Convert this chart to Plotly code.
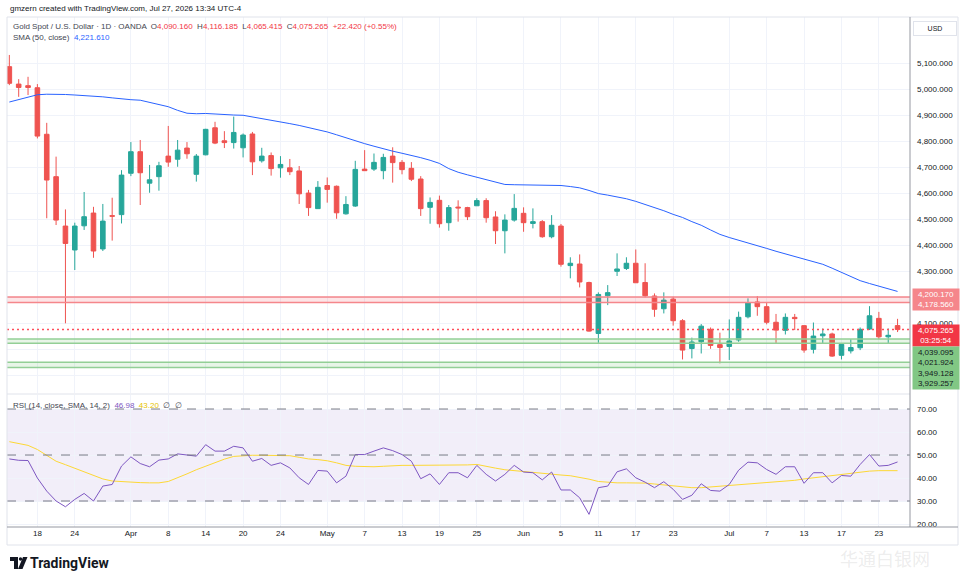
import plotly.graph_objects as go
import pandas as pd

# trading days shown (Good Friday 2026-04-03 has no bar)
dates = [d.strftime("%Y-%m-%d") for d in pd.bdate_range("2026-03-13", "2026-07-27")]
dates = [d for d in dates if d != "2026-04-03"]

tick_dates = ["2026-03-18", "2026-03-24", "2026-04-01", "2026-04-08", "2026-04-14", "2026-04-20",
              "2026-04-24", "2026-05-01", "2026-05-07", "2026-05-13", "2026-05-19", "2026-05-25",
              "2026-06-01", "2026-06-05", "2026-06-11", "2026-06-17", "2026-06-23", "2026-07-01",
              "2026-07-07", "2026-07-13", "2026-07-17", "2026-07-23"]
tick_text = ["18", "24", "Apr", "8", "14", "20", "24", "May", "7", "13", "19", "25",
             "Jun", "5", "11", "17", "23", "Jul", "7", "13", "17", "23"]

price_ticks = list(range(3900, 5200, 100))
hidden_ticks = [3900, 4000, 4200]  # covered by the level labels on the scale

opens = [5086, 5019, 5013, 5005, 4826, 4663, 4473, 4381, 4474, 4523,
         4385, 4513, 4517, 4676, 4759, 4638, 4663, 4742, 4730, 4773,
         4672, 4747, 4851, 4801, 4794, 4774, 4827, 4724, 4744, 4697,
         4697, 4685, 4600, 4540, 4629, 4626, 4520, 4550, 4692, 4692,
         4686, 4742, 4718, 4695, 4654, 4545, 4572, 4486, 4546, 4544,
         4551, 4571, 4508, 4455, 4496, 4522, 4483, 4490, 4432, 4473,
         4321, 4327, 4256, 4060, 4205, 4299, 4310, 4330, 4256, 4204,
         4155, 4192, 4109, 4002, 4028, 4076, 4017, 4010, 4035, 4124,
         4181, 4163, 4103, 4072, 4122, 4090, 3999, 4051, 4058, 3976,
         3993, 4005, 4077, 4118, 4047, 4090.160]
highs = [5131, 5038, 5047, 5019, 4870, 4740, 4537, 4486, 4604, 4547,
         4558, 4582, 4688, 4796, 4804, 4708, 4720, 4858, 4804, 4796,
         4750, 4847, 4874, 4838, 4894, 4829, 4835, 4774, 4756, 4742,
         4731, 4704, 4612, 4646, 4660, 4629, 4588, 4724, 4765, 4752,
         4751, 4776, 4727, 4719, 4665, 4583, 4590, 4554, 4572, 4547,
         4580, 4580, 4530, 4518, 4596, 4545, 4541, 4496, 4515, 4481,
         4353, 4364, 4259, 4218, 4246, 4368, 4353, 4383, 4330, 4214,
         4218, 4201, 4115, 4044, 4096, 4083, 4063, 4114, 4144, 4195,
         4204, 4178, 4135, 4137, 4135, 4092, 4102, 4079, 4063, 4022,
         4038, 4083, 4165, 4143, 4079, 4116.185]
lows = [5015, 4970, 4977, 4810, 4503, 4477, 4099, 4304, 4458, 4351,
        4377, 4417, 4483, 4665, 4554, 4601, 4609, 4701, 4701, 4732,
        4644, 4745, 4788, 4773, 4771, 4737, 4669, 4717, 4667, 4659,
        4669, 4558, 4512, 4540, 4563, 4501, 4517, 4547, 4686, 4685,
        4653, 4640, 4672, 4646, 4512, 4482, 4467, 4455, 4490, 4496,
        4551, 4486, 4404, 4368, 4490, 4451, 4464, 4428, 4426, 4317,
        4272, 4237, 4067, 4024, 4169, 4281, 4304, 4255, 4199, 4124,
        4137, 4090, 3960, 3964, 3983, 4001, 3945, 3958, 4028, 4118,
        4128, 4095, 4022, 4056, 4073, 3986, 3983, 4022, 3970, 3960,
        3983, 3996, 4073, 4038, 4022, 4065.415]
closes = [5022, 5006, 5006, 4819, 4650, 4496, 4406, 4473, 4509, 4377,
          4492, 4511, 4669, 4759, 4678, 4651, 4705, 4719, 4765, 4751,
          4742, 4845, 4792, 4794, 4833, 4823, 4720, 4742, 4694, 4710,
          4682, 4597, 4544, 4622, 4614, 4524, 4556, 4691, 4686, 4718,
          4737, 4717, 4690, 4653, 4540, 4564, 4482, 4544, 4543, 4509,
          4571, 4505, 4455, 4496, 4541, 4486, 4490, 4432, 4476, 4326,
          4330, 4258, 4069, 4210, 4217, 4308, 4330, 4255, 4205, 4153,
          4188, 4109, 3996, 4027, 4088, 4014, 4006, 4031, 4122, 4177,
          4163, 4103, 4073, 4122, 4117, 3996, 4050, 4058, 3973, 4018,
          4006, 4076, 4128, 4047, 4052.845, 4075.265]

sma50 = [4950, 4960, 4970, 4978, 4980, 4980, 4979, 4977, 4975, 4973,
         4970, 4966, 4962, 4959, 4957, 4948, 4940, 4932, 4918, 4907,
         4905, 4906, 4904, 4901, 4900, 4899, 4893, 4887, 4880, 4874,
         4867, 4860, 4852, 4845, 4835, 4824, 4812, 4800, 4790, 4780,
         4770, 4761, 4753, 4745, 4736, 4726, 4714, 4694, 4680, 4670,
         4660, 4651, 4640, 4633, 4632, 4631, 4631, 4630, 4630, 4629,
         4625, 4620, 4610, 4598, 4592, 4585, 4578, 4568, 4557, 4545,
         4532, 4518, 4506, 4490, 4476, 4458, 4441, 4429, 4419, 4408,
         4397, 4387, 4376, 4366, 4356, 4345, 4335, 4326, 4311, 4296,
         4280, 4263, 4252, 4242, 4231, 4221.61]

rsi = [48.3, 47.7, 47.6, 40.0, 34.3, 30.0, 27.5, 30.7, 33.3, 30.0,
       36.5, 37.2, 45.2, 49.2, 46.3, 44.9, 47.8, 48.3, 50.5, 49.9,
       49.5, 54.5, 51.7, 51.7, 53.8, 53.1, 47.3, 48.5, 45.5, 46.6,
       44.4, 40.1, 37.2, 43.3, 43.0, 37.9, 40.8, 50.2, 50.2, 51.7,
       53.1, 51.9, 50.2, 47.3, 39.7, 41.8, 37.2, 42.3, 42.3, 40.1,
       45.5, 41.6, 38.7, 41.6, 45.5, 42.6, 42.3, 39.2, 42.6, 34.8,
       34.8, 31.4, 24.2, 35.8, 36.5, 42.7, 44.0, 40.1, 38.2, 35.8,
       38.4, 35.1, 30.7, 32.5, 37.5, 34.6, 34.3, 37.2, 43.4, 46.9,
       46.6, 43.7, 41.6, 44.9, 44.9, 37.7, 42.3, 42.3, 37.9, 41.1,
       40.8, 45.9, 50.2, 45.2, 45.5, 46.98]
rsi_ma = [55.8, 55.0, 54.2, 52.4, 50.0, 47.3, 45.8, 44.3, 42.8, 41.0,
          39.6, 38.7, 38.4, 38.2, 38.0, 37.9, 37.9, 38.5, 40.0, 41.8,
          43.6, 45.2, 46.9, 48.2, 49.4, 49.8, 49.9, 49.9, 49.9, 49.9,
          49.7, 49.0, 48.3, 48.0, 47.5, 46.6, 45.5, 45.1, 44.9, 44.9,
          45.1, 45.4, 45.5, 45.5, 45.5, 45.5, 45.5, 45.5, 45.5, 45.7,
          45.9, 45.0, 44.3, 43.6, 43.2, 42.6, 42.3, 41.9, 41.6, 41.3,
          41.0, 40.3, 39.5, 38.5, 38.1, 37.9, 37.9, 37.9, 37.8, 37.4,
          37.0, 36.4, 36.0, 35.8, 35.8, 36.1, 36.4, 36.9, 37.2, 37.6,
          37.8, 37.9, 38.2, 38.7, 39.0, 39.6, 40.1, 40.7, 41.0, 41.5,
          41.9, 42.5, 43.0, 43.2, 43.2, 43.20]

resistance = [4178.560, 4200.170]
supports = [(4021.924, 4039.095), (3929.257, 3949.128)]
countdown = "03:25:54"

UP, DOWN = "#26a69a", "#ef5350"
GRID = "#f0f3fa"
TXT = "#131722"
FONT = "Liberation Sans"


# pixel helpers for decorations (plot area is 7..910 x 17..527)
def px(x):
    return (x - 7) / 903


def py(y):
    return (527 - y) / 510


fig = go.Figure()
fig.add_trace(go.Candlestick(
    x=dates, open=opens, high=highs, low=lows, close=closes,
    increasing=dict(line=dict(color=UP, width=1), fillcolor=UP),
    decreasing=dict(line=dict(color=DOWN, width=1), fillcolor=DOWN),
    whiskerwidth=0, xaxis="x", yaxis="y", showlegend=False))
fig.add_trace(go.Scatter(x=dates, y=sma50, mode="lines", line=dict(color="#2962ff", width=1),
                         xaxis="x", yaxis="y", showlegend=False))
fig.add_trace(go.Scatter(x=dates, y=rsi_ma, mode="lines", line=dict(color="#fdd835", width=1),
                         xaxis="x2", yaxis="y2", showlegend=False))
fig.add_trace(go.Scatter(x=dates, y=rsi, mode="lines", line=dict(color="#7e57c2", width=1),
                         xaxis="x2", yaxis="y2", showlegend=False))

shapes = []
# RSI band and levels
shapes.append(dict(type="rect", xref="x2 domain", yref="y2", x0=0, x1=1, y0=30, y1=70,
                   fillcolor="rgba(126,87,194,0.10)", line_width=0, layer="below"))
for lv in (70, 50, 30):
    shapes.append(dict(type="line", xref="x2 domain", yref="y2", x0=0, x1=1, y0=lv, y1=lv,
                       line=dict(color="#787b86", width=1, dash="dash")))
# resistance zone
shapes.append(dict(type="rect", xref="x domain", yref="y", x0=0, x1=1, y0=resistance[0], y1=resistance[1],
                   fillcolor="rgba(242,54,69,0.13)", line_width=0))
for lv in resistance:
    shapes.append(dict(type="line", xref="x domain", yref="y", x0=0, x1=1, y0=lv, y1=lv,
                       line=dict(color="#f5868b", width=1.5)))
# support zones
for lo, hi in supports:
    shapes.append(dict(type="rect", xref="x domain", yref="y", x0=0, x1=1, y0=lo, y1=hi,
                       fillcolor="rgba(76,175,80,0.13)", line_width=0))
    for lv in (lo, hi):
        shapes.append(dict(type="line", xref="x domain", yref="y", x0=0, x1=1, y0=lv, y1=lv,
                           line=dict(color="#93cf96", width=1.5)))
# last price line
shapes.append(dict(type="line", xref="x domain", yref="y", x0=0, x1=1, y0=closes[-1], y1=closes[-1],
                   line=dict(color="#ff4d5b", width=1.4, dash="2px,3px")))
# frame, pane separator, axis lines
shapes.append(dict(type="rect", xref="paper", yref="paper", x0=0, x1=px(958), y0=py(545), y1=1,
                   line=dict(color="#e0e3eb", width=1)))
shapes.append(dict(type="line", xref="paper", yref="paper", x0=0, x1=1, y0=py(394), y1=py(394),
                   line=dict(color="#e0e3eb", width=1)))
shapes.append(dict(type="line", xref="paper", yref="paper", x0=1, x1=1, y0=0, y1=1,
                   line=dict(color="#9598a1", width=1)))
shapes.append(dict(type="line", xref="paper", yref="paper", x0=0, x1=px(958), y0=0, y1=0,
                   line=dict(color="#9598a1", width=1)))
# TradingView logo mark
shapes.append(dict(type="path", xref="paper", yref="paper", fillcolor=TXT, line_width=0,
                   path=f"M {px(10)},{py(557)} L {px(18)},{py(557)} L {px(18)},{py(569)} "
                        f"L {px(14)},{py(569)} L {px(14)},{py(561)} L {px(10)},{py(561)} Z"))
shapes.append(dict(type="circle", xref="paper", yref="paper", fillcolor=TXT, line_width=0,
                   x0=px(18.8), x1=px(22.2), y0=py(560.7), y1=py(557.3)))
shapes.append(dict(type="path", xref="paper", yref="paper", fillcolor=TXT, line_width=0,
                   path=f"M {px(23)},{py(557)} L {px(27.5)},{py(557)} L {px(22.5)},{py(569)} "
                        f"L {px(18)},{py(569)} Z"))

chg = closes[-1] - closes[-2]
pct = chg / closes[-2] * 100


def red(v):
    return f"<span style='color:#f23645'>{v}</span>"


ohlc_txt = (f"Gold Spot / U.S. Dollar · 1D · OANDA  O{red(f'{opens[-1]:,.3f}')}  H{red(f'{highs[-1]:,.3f}')}"
            f"  L{red(f'{lows[-1]:,.3f}')}  C{red(f'{closes[-1]:,.3f}')}  {red(f'{chg:+.3f} ({pct:+.2f}%)')}")

ann = []
ann.append(dict(x=px(8), y=py(8), xref="paper", yref="paper", xanchor="left", yanchor="middle",
                text="gmzern created with TradingView.com, Jul 27, 2026 13:34 UTC-4", showarrow=False,
                font=dict(size=8, color=TXT, family=FONT)))
ann.append(dict(x=px(11), y=py(26), xref="paper", yref="paper", xanchor="left", yanchor="middle",
                text=ohlc_txt, showarrow=False, font=dict(size=8, color="#434651", family=FONT)))
ann.append(dict(x=px(11), y=py(38), xref="paper", yref="paper", xanchor="left", yanchor="middle",
                text=f"SMA (50, close)  <span style='color:#2962ff'>{sma50[-1]:,.3f}</span>", showarrow=False,
                font=dict(size=8, color="#434651", family=FONT)))
ann.append(dict(x=px(11), y=py(405), xref="paper", yref="paper", xanchor="left", yanchor="middle",
                text=f"RSI (14, close, SMA, 14, 2)  <span style='color:#7e57c2'>{rsi[-1]:.2f}</span>  "
                     f"<span style='color:#e6c200'>{rsi_ma[-1]:.2f}</span>  ∅  ∅",
                showarrow=False, font=dict(size=8, color="#434651", family=FONT)))
ann.append(dict(x=px(935), y=py(28), xref="paper", yref="paper", xanchor="center", yanchor="middle",
                text="USD", showarrow=False, bgcolor="white", bordercolor="#e0e3eb", borderwidth=1,
                borderpad=3, width=36, font=dict(size=7, color=TXT, family=FONT)))
# price scale labels
ann.append(dict(x=px(912), y=sum(resistance) / 2, xref="paper", yref="y", xanchor="left", yanchor="middle",
                text="<br>".join(f"{v:,.3f}" for v in sorted(resistance, reverse=True)), showarrow=False,
                bgcolor="#f5868b", borderpad=1, width=44, align="center",
                font=dict(size=8, color="white", family=FONT)))
ann.append(dict(x=px(912), y=closes[-1], xref="paper", yref="y", xanchor="left", yanchor="top", yshift=5,
                text=f"{closes[-1]:,.3f}<br>{countdown}", showarrow=False, bgcolor="#f23645", borderpad=1,
                width=44, align="center", font=dict(size=8, color="white", family=FONT)))
sup_vals = sorted([v for pair in supports for v in pair], reverse=True)
ann.append(dict(x=px(912), y=sup_vals[0], xref="paper", yref="y", xanchor="left", yanchor="top", yshift=-7,
                text="<br>".join(f"{v:,.3f}" for v in sup_vals), showarrow=False, bgcolor="#81c784",
                borderpad=1, width=44, align="center", font=dict(size=8, color=TXT, family=FONT)))
# footer logo text
ann.append(dict(x=px(28), y=py(563), xref="paper", yref="paper", xanchor="left", yanchor="middle",
                text="<b>TradingView</b>", showarrow=False, font=dict(size=14, color=TXT, family="Roboto")))
ann.append(dict(x=px(885), y=py(558), xref="paper", yref="paper", xanchor="center", yanchor="middle",
                text="华通白银网", showarrow=False,
                font=dict(size=18, color="rgba(150,150,150,0.18)", family="Noto Sans CJK SC")))

fig.update_layout(
    width=964, height=582,
    margin=dict(l=7, r=54, t=17, b=55),
    paper_bgcolor="white", plot_bgcolor="white",
    font=dict(family=FONT, size=8, color=TXT),
    hovermode=False,
    shapes=shapes, annotations=ann,
    xaxis=dict(type="category", domain=[0, 1], anchor="y", range=[-0.25, len(dates) + 0.33],
               tickvals=tick_dates, showticklabels=False, showgrid=True, gridcolor=GRID,
               rangeslider=dict(visible=False), showline=False, zeroline=False),
    xaxis2=dict(type="category", domain=[0, 1], anchor="y2", matches="x", tickvals=tick_dates,
                ticktext=tick_text, showgrid=True, gridcolor=GRID, showline=False, zeroline=False,
                ticks="", tickfont=dict(size=8, color=TXT)),
    yaxis=dict(domain=[py(393), 1], side="right", range=[3831, 5277],
               tickvals=price_ticks,
               ticktext=["" if v in hidden_ticks else f"{v:,.3f}" for v in price_ticks],
               showgrid=True, gridcolor=GRID, zeroline=False, ticks="", ticklabelstandoff=6,
               tickfont=dict(size=8, color=TXT)),
    yaxis2=dict(domain=[0, py(395)], side="right", range=[18.7, 76.1], tickvals=[20, 30, 40, 50, 60, 70],
                tickformat=".2f", showgrid=True, gridcolor=GRID, zeroline=False, ticks="",
                ticklabelstandoff=6, tickfont=dict(size=8, color=TXT)),
)

fig.write_html("out.html", config={"displayModeBar": False},
               post_script="document.body.style.margin='0';")
